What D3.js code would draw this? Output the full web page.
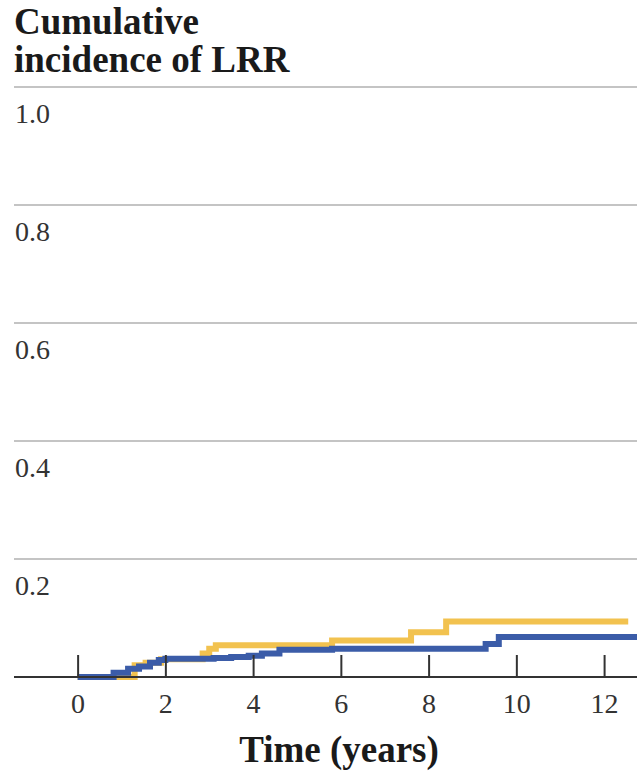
<!DOCTYPE html>
<html>
<head>
<meta charset="utf-8">
<script src="https://cdn.jsdelivr.net/npm/d3@7"></script>
<style>
  html, body { margin: 0; padding: 0; background: #fff; }
  svg { display: block; }
</style>
</head>
<body>
<svg id="chart" width="637" height="771"></svg>
<script>
// Cumulative incidence of locoregional recurrence (step curves)
const xTicks = [0, 2, 4, 6, 8, 10, 12];
const yTicks = [0.2, 0.4, 0.6, 0.8, 1.0];
const yTickLabels = ["0.2", "0.4", "0.6", "0.8", "1.0"];

// Group A (yellow curve): time in years, cumulative incidence
const yellowTime  = [0, 1.3, 1.55, 1.9, 2.85, 3.0, 3.15, 5.8, 7.6, 8.4, 12.55];
const yellowValue = [0, 0.020, 0.024, 0.030, 0.040, 0.048, 0.054, 0.062, 0.076, 0.094, 0.094];

// Group B (blue curve)
const blueTime  = [0, 0.82, 1.15, 1.4, 1.65, 1.85, 2.0, 3.1, 3.5, 3.9, 4.2, 4.6, 5.8, 9.3, 9.6, 12.8];
const blueValue = [0, 0.007, 0.014, 0.018, 0.024, 0.029, 0.031, 0.032, 0.034, 0.036, 0.040, 0.046, 0.048, 0.056, 0.068, 0.068];

const svg = d3.select("#chart");
const left = 14, right = 637;

const x = d3.scaleLinear().domain([-1.45, 12.75]).range([left, right]);
const y = d3.scaleLinear().domain([0, 1]).range([677, 87]);

const serif = "Liberation Serif, DejaVu Serif, serif";

// Title
const title = svg.append("text")
  .attr("x", 14)
  .style("font-family", serif)
  .style("font-weight", "bold")
  .style("font-size", "37px")
  .attr("fill", "#1a1a1a");
title.append("tspan").attr("x", 14).attr("y", 34).text("Cumulative");
title.append("tspan").attr("x", 14).attr("y", 72).text("incidence of LRR");

// Horizontal gridlines with labels sitting below them
const grid = svg.append("g");
grid.selectAll("line")
  .data(yTicks)
  .join("line")
  .attr("x1", left).attr("x2", right)
  .attr("y1", d => y(d)).attr("y2", d => y(d))
  .attr("stroke", "#c4c4c4")
  .attr("stroke-width", 2);
grid.selectAll("text")
  .data(yTicks)
  .join("text")
  .attr("x", 15)
  .attr("y", d => y(d) + 36)
  .style("font-family", serif)
  .style("font-size", "28px")
  .attr("fill", "#333")
  .text((d, i) => yTickLabels[i]);

// Curves
const line = (times, values) => d3.line()
  .x((d, i) => x(times[i]))
  .y((d, i) => y(values[i]))
  .curve(d3.curveStepAfter)(values);

svg.append("path")
  .attr("d", line(yellowTime, yellowValue))
  .attr("fill", "none")
  .attr("stroke", "#f2c24f")
  .attr("stroke-width", 6);

svg.append("path")
  .attr("d", line(blueTime, blueValue))
  .attr("fill", "none")
  .attr("stroke", "#3b5ca8")
  .attr("stroke-width", 6);

// X axis: baseline, upward ticks, labels below
const xAxis = d3.axisBottom(x)
  .tickValues(xTicks)
  .tickSizeInner(-22)
  .tickSizeOuter(0)
  .tickPadding(16)
  .tickFormat(d3.format("d"));

const gx = svg.append("g")
  .attr("transform", `translate(0,${y(0)})`)
  .call(xAxis);
gx.select(".domain").remove();
gx.selectAll(".tick line").attr("stroke", "#333").attr("stroke-width", 2);
gx.selectAll(".tick text")
  .style("font-family", serif)
  .style("font-size", "28px")
  .attr("fill", "#333");

svg.append("line")
  .attr("x1", left).attr("x2", right)
  .attr("y1", y(0)).attr("y2", y(0))
  .attr("stroke", "#333")
  .attr("stroke-width", 2);

// X axis title
svg.append("text")
  .attr("x", 339)
  .attr("y", 762)
  .attr("text-anchor", "middle")
  .style("font-family", serif)
  .style("font-weight", "bold")
  .style("font-size", "37px")
  .attr("fill", "#1a1a1a")
  .text("Time (years)");
</script>
</body>
</html>
